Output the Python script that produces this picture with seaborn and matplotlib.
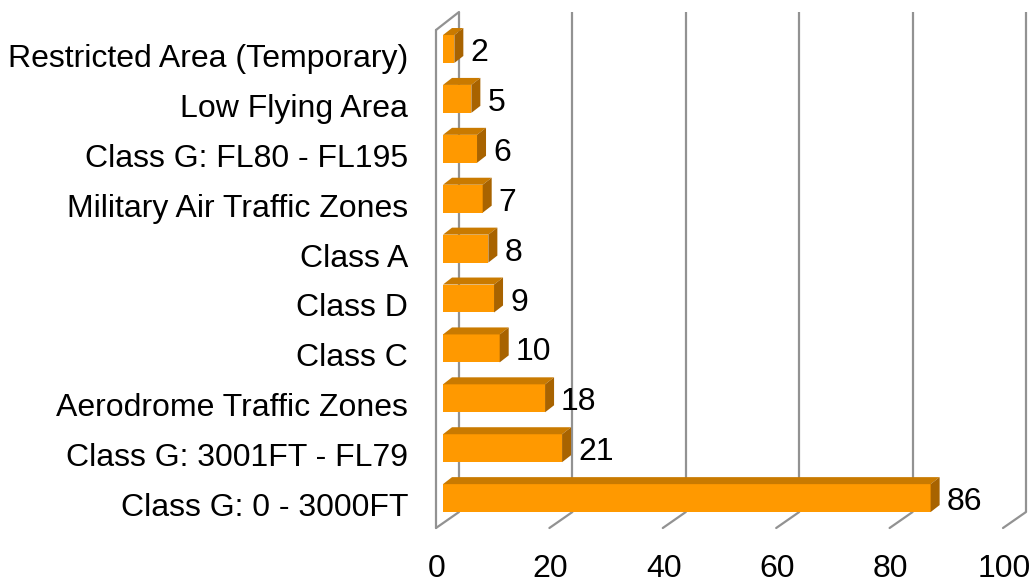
import matplotlib
matplotlib.use("Agg")
import matplotlib.pyplot as plt
from matplotlib.patches import Polygon
import seaborn as sns

# Airspace infringement counts by airspace type
categories = [
    "Restricted Area (Temporary)",
    "Low Flying Area",
    "Class G: FL80 - FL195",
    "Military Air Traffic Zones",
    "Class A",
    "Class D",
    "Class C",
    "Aerodrome Traffic Zones",
    "Class G: 3001FT - FL79",
    "Class G: 0 - 3000FT",
]
values = [2, 5, 6, 7, 8, 9, 10, 18, 21, 86]
x_ticks = [0, 20, 40, 60, 80, 100]

sns.set_theme(style="white")
plt.rcParams["font.family"] = ["Liberation Sans", "DejaVu Sans"]

W, H = 1033, 583
FS = 23
fig = plt.figure(figsize=(W / 100, H / 100), dpi=100)
ax = fig.add_axes([0, 0, 1, 1])

# pixel <-> data helpers for the pseudo-3D frame
PX = 5.67          # pixels per value unit
X0 = 443           # pixel of value 0 on the bar front plane
Y0, DY = 49, 49.9  # first category centre and category spacing (pixels)


def px2x(px):
    return (px - X0) / PX


def py2y(py):
    return (py - Y0) / DY


FRONT = px2x(436) - px2x(443)   # front plane offset (value units)
BACK = px2x(459) - px2x(443)    # back wall offset (value units)

ORANGE = "#FF9900"
TOP = "#C97A00"
SIDE = "#A86300"
GRID = "#929292"

sns.barplot(x=values, y=categories, orient="h", color=ORANGE, saturation=1,
            width=0.56, ax=ax, zorder=3, edgecolor="none")

ax.set_xlim(px2x(0), px2x(W))
ax.set_ylim(py2y(H), py2y(0))
ax.axis("off")

# back wall gridlines and floor diagonals
y_top_back, y_floor_back, y_floor_front = py2y(12), py2y(512), py2y(528)
for t in x_ticks:
    ax.plot([t + BACK, t + BACK], [y_top_back, y_floor_back],
            color=GRID, lw=1.6, zorder=1, solid_capstyle="butt")
    ax.plot([t + FRONT, t + BACK], [y_floor_front, y_floor_back],
            color=GRID, lw=1.6, zorder=1)
    ax.text(t + FRONT + 1 / PX, py2y(577), str(t), ha="center", va="baseline",
            fontsize=FS, color="black")

# left side wall outline
ax.plot([FRONT, FRONT], [py2y(30), y_floor_front], color=GRID, lw=1.6, zorder=1)
ax.plot([FRONT, BACK], [py2y(30), y_top_back], color=GRID, lw=1.6, zorder=1)

# 3D faces of the bars and value labels
ddx = 9 / PX
ddy = 7 / DY
for patch, val, cat in zip(ax.patches, values, categories):
    x0, w = patch.get_x(), patch.get_width()
    y, h = patch.get_y(), patch.get_height()
    top = Polygon([(x0, y), (x0 + w, y), (x0 + w + ddx, y - ddy), (x0 + ddx, y - ddy)],
                  closed=True, facecolor=TOP, edgecolor="none", zorder=3)
    side = Polygon([(x0 + w, y), (x0 + w + ddx, y - ddy),
                    (x0 + w + ddx, y + h - ddy), (x0 + w, y + h)],
                   closed=True, facecolor=SIDE, edgecolor="none", zorder=3)
    ax.add_patch(top)
    ax.add_patch(side)
    yc = y + h / 2
    ax.text(x0 + w + 16 / PX, yc + 12 / DY, str(val), ha="left", va="baseline",
            fontsize=FS, color="black", zorder=4)
    ax.text(px2x(408), yc + 18 / DY, cat, ha="right", va="baseline",
            fontsize=FS, color="black")

fig.savefig("out.png", dpi=100)
